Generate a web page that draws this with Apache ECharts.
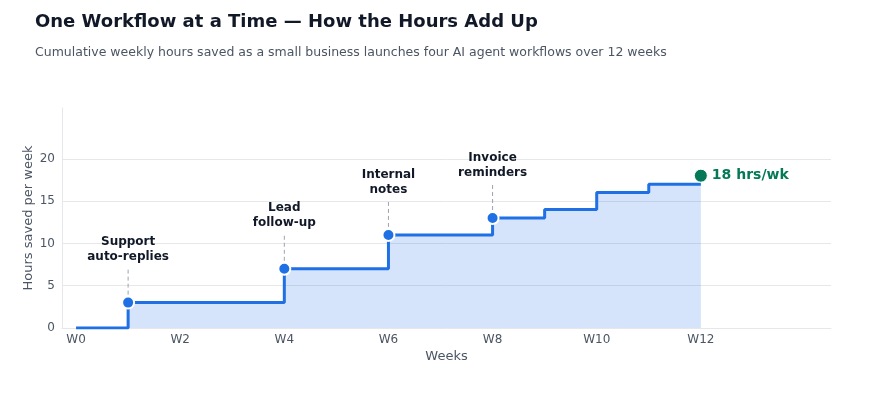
<!DOCTYPE html>
<html lang="en">
<head>
    <meta charset="UTF-8">
    <title>One Workflow at a Time</title>
    <script src="https://cdn.jsdelivr.net/npm/echarts@6/dist/echarts.min.js"></script>
    <style>
        body { margin: 0; background: #fff; }
        #main { width: 876px; height: 400px; }
    </style>
</head>
<body>
    <div id="main"></div>
    <script type="text/javascript">
        // data
        var weeks = [0, 1, 2, 3, 4, 5, 6, 7, 8, 9, 10, 11, 12];
        var hoursSaved = [0, 3, 3, 3, 7, 7, 11, 11, 13, 14, 16, 17, 17];
        var launchWeeks = [1, 4, 6, 8];
        var launchLabels = ['Support\nauto-replies', 'Lead\nfollow-up', 'Internal\nnotes', 'Invoice\nreminders'];
        var endWeek = 12;
        var endValue = 18;
        var xTickValues = [0, 2, 4, 6, 8, 10, 12];
        var yTickValues = [0, 5, 10, 15, 20];

        var blue = '#1f6fe5';
        var green = '#047857';
        var font = 'DejaVu Sans';

        var stepData = weeks.map(function (w, i) { return [w, hoursSaved[i]]; });
        var launchData = launchWeeks.map(function (w) { return [w, hoursSaved[w]]; });

        var myChart = echarts.init(document.getElementById('main'));

        var option = {
            backgroundColor: '#fff',
            textStyle: { fontFamily: font },
            title: {
                text: 'One Workflow at a Time — How the Hours Add Up',
                subtext: 'Cumulative weekly hours saved as a small business launches four AI agent workflows over 12 weeks',
                left: 30,
                top: 8,
                itemGap: 15,
                textStyle: { fontSize: 18, fontWeight: 'bold', color: '#111827', fontFamily: font },
                subtextStyle: { fontSize: 12.5, color: '#4b5563', fontFamily: font }
            },
            grid: { left: 62, right: 45, top: 108, bottom: 72, containLabel: false },
            xAxis: {
                type: 'value',
                min: -0.27,
                max: 14.5,
                name: 'Weeks',
                nameLocation: 'middle',
                nameGap: 22,
                nameMoveOverlap: false,
                nameTextStyle: { fontSize: 13, color: '#4b5563' },
                axisLine: { show: true, onZero: false, lineStyle: { color: '#e5e7eb' } },
                axisTick: { show: false },
                splitLine: { show: false },
                axisLabel: {
                    customValues: xTickValues,
                    formatter: 'W{value}',
                    fontSize: 12,
                    color: '#4b5563',
                    margin: 6
                }
            },
            yAxis: {
                type: 'value',
                min: 0,
                max: 26,
                name: 'Hours saved per week',
                nameLocation: 'middle',
                nameGap: 27,
                nameMoveOverlap: false,
                nameTextStyle: { fontSize: 13, color: '#4b5563' },
                axisLine: { show: true, onZero: false, lineStyle: { color: '#e5e7eb' } },
                axisTick: { show: false },
                splitLine: { show: false },
                axisLabel: {
                    customValues: yTickValues,
                    fontSize: 12,
                    color: '#4b5563',
                    margin: 7
                }
            },
            series: [
                {
                    type: 'line',
                    step: 'end',
                    data: stepData,
                    showSymbol: false,
                    lineStyle: { width: 3, color: blue },
                    areaStyle: { color: 'rgba(31,111,229,0.19)', opacity: 1 },
                    z: 3,
                    markLine: {
                        silent: true,
                        symbol: 'none',
                        label: { show: false },
                        lineStyle: { color: '#e5e7eb', type: 'solid', width: 1 },
                        data: yTickValues.slice(1).map(function (v) { return { yAxis: v }; }),
                        z: 1
                    }
                },
                {
                    // leader lines and launch labels
                    type: 'custom',
                    data: launchData,
                    silent: true,
                    z: 4,
                    renderItem: function (params, api) {
                        var pt = api.coord([api.value(0), api.value(1)]);
                        return {
                            type: 'group',
                            children: [
                                {
                                    type: 'line',
                                    shape: { x1: pt[0], y1: pt[1] - 33, x2: pt[0], y2: pt[1] - 7 },
                                    style: { stroke: '#9ca3af', lineWidth: 1, lineDash: [4, 3] }
                                },
                                {
                                    type: 'text',
                                    style: {
                                        text: launchLabels[params.dataIndex],
                                        x: pt[0],
                                        y: pt[1] - 38,
                                        align: 'center',
                                        verticalAlign: 'bottom',
                                        fontSize: 12,
                                        fontWeight: 'bold',
                                        fontFamily: font,
                                        lineHeight: 15,
                                        fill: '#111827'
                                    }
                                }
                            ]
                        };
                    }
                },
                {
                    type: 'scatter',
                    data: launchData,
                    symbolSize: 12,
                    itemStyle: { color: blue, borderColor: '#fff', borderWidth: 2, opacity: 1 },
                    z: 5
                },
                {
                    type: 'scatter',
                    data: [[endWeek, endValue]],
                    symbolSize: 13,
                    itemStyle: { color: green, borderColor: '#fff', borderWidth: 1, opacity: 1 },
                    label: {
                        show: true,
                        position: 'right',
                        distance: 4,
                        formatter: endValue + ' hrs/wk',
                        fontSize: 14,
                        fontWeight: 'bold',
                        color: green
                    },
                    z: 6
                }
            ]
        };

        myChart.setOption(option);
    </script>
</body>
</html>
